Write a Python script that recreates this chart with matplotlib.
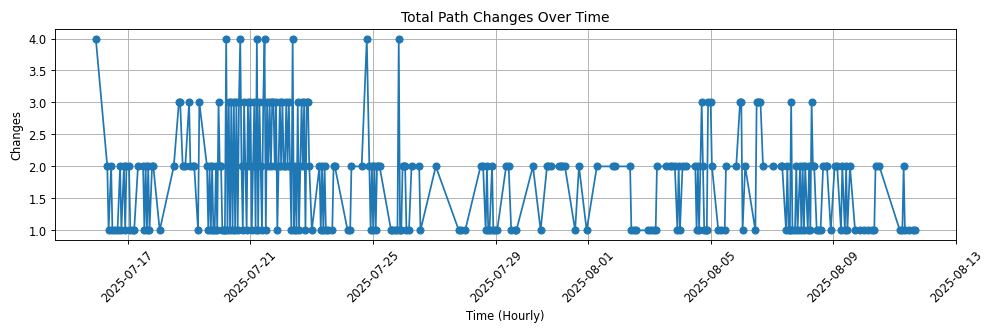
import matplotlib
matplotlib.use('Agg')
import matplotlib.pyplot as plt
import pandas as pd

# hours elapsed since the first record, and path changes at each hour
start = '2025-07-15 23:00'
hours = [
    0, 9, 10, 12, 13, 15, 17, 19, 20, 22, 23, 24, 26, 27, 29, 30, 33, 37, 38, 39,
    40, 41, 42, 44, 45, 50, 61, 65, 66, 68, 70, 73, 74, 76, 77, 80, 81,
    87, 88, 89, 90, 91, 92, 93, 94, 95, 96, 97, 98, 99, 100, 101, 102, 103, 104,
    105, 106, 107, 108, 109, 110, 111, 112, 113, 114, 115, 116, 117, 118, 119, 120,
    121, 122, 123, 124, 125, 126, 127, 128, 129, 130, 131, 132, 133, 134, 135, 136,
    137, 138, 139, 140, 141, 142, 143, 144, 145, 146, 147, 148, 149, 150, 151, 152,
    153, 154, 155, 156, 157, 158, 159, 160, 161, 162, 163, 164, 165, 166, 167, 169,
    175, 176, 177, 178, 179, 180, 182, 185, 186, 187, 197, 199, 200, 208, 212, 214,
    215, 216, 217, 218, 219, 220, 221, 222, 231, 232, 234, 236, 237, 238, 239, 240,
    241, 242, 243, 245, 247, 253, 254, 266, 284, 286, 289,
    301, 303, 305, 306, 307, 308, 310, 311, 312, 314, 321, 323, 325, 328, 329, 342,
    348, 353, 354, 356, 362, 364, 365, 367, 375, 378, 384, 392, 405, 406, 418, 419,
    421, 423, 432, 434, 437, 438, 439, 446, 449, 451, 453, 455, 456, 457, 459, 462,
    469, 470, 471, 472, 474, 475, 476, 477, 478, 479, 481, 482, 487, 489, 492, 493,
    501, 504, 505, 506, 508, 516, 517, 518, 520, 522, 530, 536, 537, 540, 541, 542,
    543, 544, 545, 547, 548, 549, 551, 552, 553, 554, 555, 557, 558, 559, 560, 561,
    562, 564, 566, 567, 569, 571, 572, 575, 578, 580, 583, 584, 586, 587, 588, 590,
    594, 598, 601, 604, 607, 609, 610, 613, 629, 631, 632, 633, 636, 639, 641,
]
changes = [
    4, 2, 1, 2, 1, 1, 1, 2, 1, 2, 1, 2, 2, 1, 1, 1, 2, 2, 1, 2,
    1, 2, 1, 2, 2, 1, 2, 3, 3, 2, 2, 3, 2, 2, 2, 1, 3,
    2, 1, 2, 1, 2, 1, 1, 2, 1, 3, 2, 2, 1, 1, 1, 4, 1, 3,
    1, 3, 1, 3, 1, 3, 1, 3, 4, 2, 1, 3, 2, 1, 3, 2,
    3, 1, 2, 3, 1, 4, 1, 3, 2, 1, 3, 4, 1, 3, 2, 3,
    2, 3, 3, 2, 3, 1, 2, 3, 2, 3, 2, 2, 3, 2, 3, 2,
    1, 4, 1, 2, 1, 3, 1, 2, 3, 2, 3, 1, 3, 3, 2, 1,
    2, 1, 2, 1, 2, 1, 1, 1, 2, 2, 1, 1, 2, 2, 4, 2,
    1, 2, 1, 2, 1, 2, 2, 2, 1, 1, 1, 1, 4, 1, 1, 2,
    2, 2, 1, 1, 2, 2, 1, 2, 1, 1, 1,
    2, 2, 1, 2, 1, 1, 2, 1, 1, 1, 2, 2, 1, 1, 1, 2,
    1, 2, 2, 2, 2, 2, 2, 2, 1, 2, 1, 2, 2, 2, 2, 1,
    1, 1, 1, 1, 1, 1, 2, 2, 2, 2, 2, 1, 2, 1, 2, 2,
    2, 1, 2, 1, 3, 2, 1, 1, 1, 3, 3, 2, 1, 1, 1, 2,
    2, 3, 3, 1, 2, 1, 3, 3, 3, 2, 2, 2, 2, 1, 2, 1,
    1, 3, 1, 1, 2, 1, 2, 1, 2, 1, 2, 1, 2, 1, 3, 2,
    2, 1, 1, 1, 2, 2, 2, 1, 2, 2, 1, 2, 1, 2, 1, 2,
    1, 1, 1, 1, 1, 1, 2, 2, 1, 1, 2, 1, 1, 1, 1,
]

times = pd.Timestamp(start) + pd.to_timedelta(hours, unit='h')

# drawn at 12x4 in, saved at reduced dpi -> 997x332 px
fig = plt.figure(figsize=(12, 4))
ax = fig.add_axes([0.055, 0.277, 0.904, 0.635])
ax.plot(times, changes, marker='o', linestyle='-')

ax.set_title('Total Path Changes Over Time')
ax.set_xlabel('Time (Hourly)')
ax.set_ylabel('Changes')
ax.grid(True)
plt.setp(ax.get_xticklabels(), rotation=45)

fig.savefig('out.png', dpi=997 / 12)
